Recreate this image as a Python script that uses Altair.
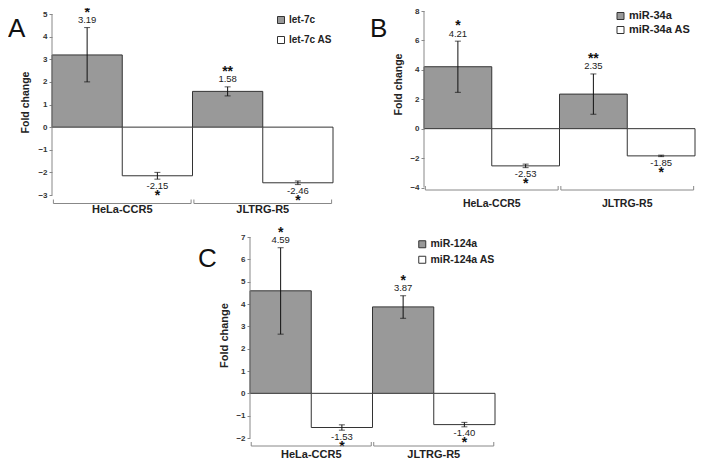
import altair as alt
import pandas as pd

FONT = "Liberation Sans"

# ---------------- data ----------------
groups = ["HeLa-CCR5", "JLTRG-R5"]

a_series = ["let-7c", "let-7c AS"]
a_values = [3.19, -2.15, 1.58, -2.46]
a_err_low = [2.00, -2.30, 1.38, -2.54]
a_err_high = [4.40, -2.00, 1.78, -2.38]
a_stars = ["*", "*", "**", "*"]
a_ticks = [-3, -2, -1, 0, 1, 2, 3, 4, 5]

b_series = ["miR-34a", "miR-34a AS"]
b_values = [4.21, -2.53, 2.35, -1.85]
b_err_low = [2.47, -2.65, 0.98, -1.90]
b_err_high = [5.95, -2.41, 3.72, -1.80]
b_stars = ["*", "*", "**", "*"]
b_ticks = [-4, -2, 0, 2, 4, 6, 8]

c_series = ["miR-124a", "miR-124a AS"]
c_values = [4.59, -1.53, 3.87, -1.40]
c_err_low = [2.65, -1.65, 3.36, -1.50]
c_err_high = [6.52, -1.41, 4.37, -1.30]
c_stars = ["*", "*", "*", "*"]
c_ticks = [-2, -1, 0, 1, 2, 3, 4, 5, 6, 7]

# ---------------- layout / style (pixels inside the 688x452 view) ----------------
W, H = 688, 452
LAY = {
    "A": dict(xr=[44, 325], yr=[187, 6], letter=(0, 21), legend=(268, 7, 8, 10),
              title=(-27, 94, 10.5), bracket=195.5, glabel=(201.5, 11)),
    "B": dict(xr=[416, 687], yr=[179.5, 3], letter=(362, 21), legend=(607, 2.5, 2, 11),
              title=(-26, 76, 10.5), bracket=182, glabel=(196, 10.5)),
    "C": dict(xr=[242, 487], yr=[430, 229], letter=(190, 251), legend=(409, 231, 3.5, 10.5),
              title=(-26, 327, 11), bracket=438, glabel=(447, 11)),
}
GRAY = "#999999"
EDGE = "#333333"
AXIS_GRAY = "#888888"


def make_panel(letter, series, values, err_low, err_high, stars, ticks):
    lay = LAY[letter]
    n = len(values)
    df = pd.DataFrame({
        "group": [groups[i // 2] for i in range(n)],
        "series": [series[i % 2] for i in range(n)],
        "x0": list(range(n)),
        "x1": [i + 1 for i in range(n)],
        "xc": [i + 0.5 for i in range(n)],
        "value": values,
        "low": err_low,
        "high": err_high,
        "label": [f"{v:.2f}" for v in values],
        "star": stars,
        "zero": [0] * n,
    })
    xs = alt.Scale(domain=[0, n], range=lay["xr"], nice=False, zero=False)
    ys = alt.Scale(domain=[min(ticks), max(ticks)], range=lay["yr"], nice=False, zero=False)
    t_x, t_y, t_fs = lay["title"]
    yaxis = alt.Axis(
        orient="left", offset=-lay["xr"][0],
        values=ticks, domain=False, grid=False, tickSize=3, tickColor=AXIS_GRAY,
        labelFontSize=8, labelFontWeight="bold", labelColor="#333", labelPadding=2,
        labelFont=FONT,
        title="Fold change", titleFont=FONT, titleFontSize=t_fs, titleFontWeight="bold",
        titleColor="#222", titleX=t_x, titleY=t_y, titleBaseline="middle",
    )

    def X(f):
        return alt.X(f, scale=xs, axis=None)

    def Y(f):
        return alt.Y(f, scale=ys, axis=yaxis)

    base = alt.Chart(df)
    lx, ly, rp, lfs = lay["legend"]
    bars = base.mark_bar(stroke=EDGE, strokeWidth=1).encode(
        x=X("x0:Q"), x2="x1:Q", y=Y("value:Q"), y2="zero:Q",
        fill=alt.Fill("series:N", scale=alt.Scale(domain=series, range=[GRAY, "#ffffff"]),
                      legend=alt.Legend(title=None, orient="none", legendX=lx, legendY=ly,
                                        symbolType="square", symbolSize=49,
                                        symbolStrokeColor=EDGE, symbolStrokeWidth=1,
                                        labelFont=FONT, labelFontSize=lfs,
                                        labelFontWeight="bold", labelColor="#222",
                                        rowPadding=rp, labelOffset=3, padding=0)),
    )
    axis_df = pd.DataFrame({"xa": [0], "ya": [min(ticks)], "yb": [max(ticks)]})
    axis_line = alt.Chart(axis_df).mark_rule(color=AXIS_GRAY, strokeWidth=1).encode(
        x=X("xa:Q"), y=Y("ya:Q"), y2="yb:Q")

    err = base.mark_rule(color="#111", strokeWidth=1).encode(
        x=X("xc:Q"), y=Y("low:Q"), y2="high:Q")
    cap_lo = base.mark_tick(orient="horizontal", size=6, thickness=1, color="#111").encode(
        x=X("xc:Q"), y=Y("low:Q"))
    cap_hi = base.mark_tick(orient="horizontal", size=6, thickness=1, color="#111").encode(
        x=X("xc:Q"), y=Y("high:Q"))

    pos = base.transform_filter("datum.value > 0")
    neg = base.transform_filter("datum.value < 0")
    lbl_pos = pos.mark_text(dy=-7.5, fontSize=9.5, font=FONT, color="#222").encode(
        x=X("xc:Q"), y=Y("high:Q"), text="label:N")
    lbl_neg = neg.mark_text(dy=6.5, fontSize=9.5, font=FONT, color="#222").encode(
        x=X("xc:Q"), y=Y("low:Q"), text="label:N")
    star_pos = pos.mark_text(dy=-15, fontSize=14, fontWeight="bold", font=FONT,
                             color="#111").encode(x=X("xc:Q"), y=Y("high:Q"), text="star:N")
    star_neg = neg.mark_text(dy=16.5, fontSize=14, fontWeight="bold", font=FONT,
                             color="#111").encode(x=X("xc:Q"), y=Y("low:Q"), text="star:N")

    g_y, g_fs = lay["glabel"]
    g_df = pd.DataFrame({"group": groups, "xg": [2 * g + 1 for g in range(len(groups))]})
    glabels = alt.Chart(g_df).mark_text(fontSize=g_fs, fontWeight="bold", font=FONT,
                                        color="#222", baseline="middle").encode(
        x=X("xg:Q"), y=alt.value(g_y), text="group:N")

    br_df = pd.DataFrame({"left": [2 * g + 0.02 for g in range(len(groups))],
                          "right": [2 * g + 1.98 for g in range(len(groups))]})
    br_h = alt.Chart(br_df).mark_rule(color=AXIS_GRAY, strokeWidth=1).encode(
        x=X("left:Q"), x2="right:Q", y=alt.value(lay["bracket"]))
    ends_df = pd.DataFrame({"xe": list(br_df["left"]) + list(br_df["right"])})
    br_v = alt.Chart(ends_df).mark_rule(color=AXIS_GRAY, strokeWidth=1).encode(
        x=X("xe:Q"), y=alt.value(lay["bracket"] - 4), y2=alt.value(lay["bracket"]))

    tx, ty = lay["letter"]
    letter_mark = alt.Chart(pd.DataFrame({"t": [letter]})).mark_text(
        fontSize=26, align="left", baseline="middle", font=FONT, color="#111").encode(
        text="t:N", x=alt.value(tx), y=alt.value(ty))

    return alt.layer(bars, axis_line, err, cap_lo, cap_hi, lbl_pos, lbl_neg, star_pos,
                     star_neg, glabels, br_h, br_v, letter_mark)


pA = make_panel("A", a_series, a_values, a_err_low, a_err_high, a_stars, a_ticks)
pB = make_panel("B", b_series, b_values, b_err_low, b_err_high, b_stars, b_ticks)
pC = make_panel("C", c_series, c_values, c_err_low, c_err_high, c_stars, c_ticks)

chart = alt.layer(pA, pB, pC).resolve_scale(
    x="independent", y="independent", fill="independent"
).properties(
    width=W, height=H, padding=0, autosize=alt.AutoSizeParams(type="none")
).configure(font=FONT).configure_view(stroke=None)

chart.save("out.html", embed_options={"renderer": "svg", "actions": False})
